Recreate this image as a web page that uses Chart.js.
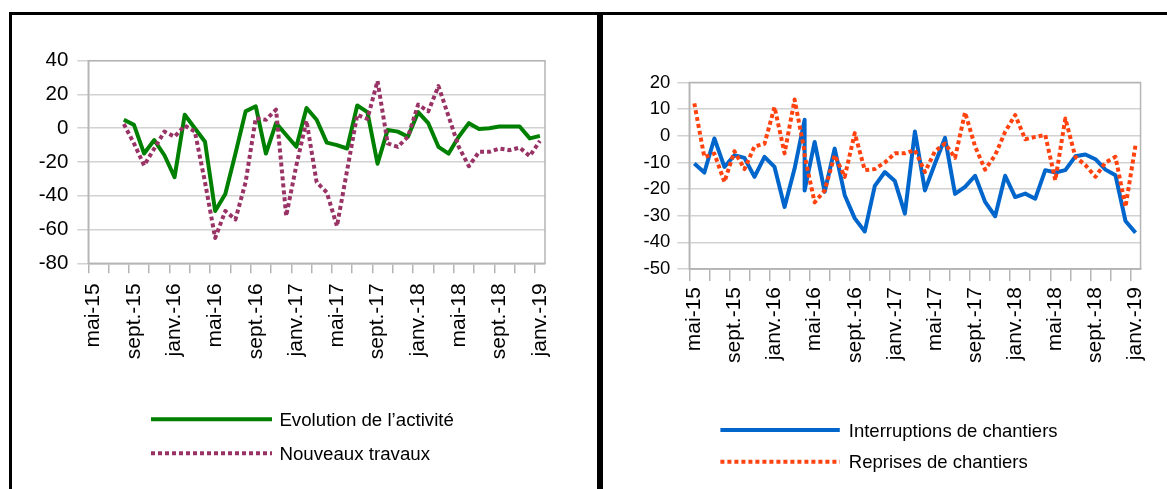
<!DOCTYPE html>
<html><head><meta charset="utf-8">
<script src="https://cdn.jsdelivr.net/npm/chart.js@4.4.1/dist/chart.umd.min.js"></script>
<style>
html,body{margin:0;padding:0;background:#fff;width:1167px;height:489px;overflow:hidden;}
.panel{position:absolute;top:12px;border:3px solid #000;box-sizing:border-box;height:540px;}
#p1{left:9px;width:591px;}
#p2{left:600px;width:620px;}
canvas{position:absolute;}
</style></head><body>
<div class="panel" id="p1"></div><div class="panel" id="p2"></div>
<canvas id="c1" width="586" height="474" style="left:12px;top:15px;width:586px;height:474px"></canvas>
<canvas id="c2" width="564" height="474" style="left:603px;top:15px;width:564px;height:474px"></canvas>
<script>
// ---- data ----
const months = ['mai-15','juin-15','juil.-15','août-15','sept.-15','oct.-15','nov.-15','déc.-15',
 'janv.-16','févr.-16','mars-16','avr.-16','mai-16','juin-16','juil.-16','août-16','sept.-16','oct.-16','nov.-16','déc.-16',
 'janv.-17','févr.-17','mars-17','avr.-17','mai-17','juin-17','juil.-17','août-17','sept.-17','oct.-17','nov.-17','déc.-17',
 'janv.-18','févr.-18','mars-18','avr.-18','mai-18','juin-18','juil.-18','août-18','sept.-18','oct.-18','nov.-18','déc.-18',
 'janv.-19'];

const evolutionActivite = [null,null,null,5,2,-15,-7,-16,-29,8,0,-8,-49,-39,-15,10,13,-15,3,-4,-11,12,5,-8.5,-10,-12,13.5,9.5,-21,-1,-2,-5,9.5,3,-11,-15,-5,3,-0.5,0,1,1,1,-6,-4.5];
const nouveauxTravaux = [null,null,null,2.5,-9,-22,-12,-2,-5,1.5,-2,-32,-65,-49,-54,-32,6,5,11,-52,-22,4.5,-32,-38,-58,-25,8,5.5,28,-9,-11,-5,14,10,25,7,-11,-22.5,-14,-14,-12,-13,-11.5,-16.5,-7.5];

// right panel: the source series contains two observations for avr.-16
const rightMonths = [...months.slice(0, 12), 'avr.-16', ...months.slice(12)];
const interruptions = [-10.4,-13.8,-1,-11.7,-7.3,-8.3,-15.4,-7.9,-11.7,-26.7,-12.3,6,-20.5,-2.3,-21,-4.8,-22.3,-31,-35.9,-18.8,-13.6,-17,-29.2,1.6,-20.5,-10.4,-0.8,-21.8,-19.2,-15,-24.8,-30.2,-15,-23,-21.7,-23.6,-12.9,-13.8,-12.9,-7.7,-7,-8.8,-12.7,-14.8,-32,-36.4];
const reprises = [12.2,-8,-6.7,-17.3,-5.8,-12.5,-4,-3,10.8,-6.6,13.6,-6,-7.5,-25,-20.5,-7.3,-15.4,1,-12.9,-12.5,-10,-6.6,-6.6,-5.4,-13.6,-5.8,-2.9,-8.3,8.8,-4,-12.7,-7.3,1.5,7.8,-1.3,-0.4,0.3,-16.7,6.5,-7.9,-11,-15.4,-10,-7.9,-26.7,-3.5];

// ---- chart setup ----
Chart.defaults.font.family = "'Liberation Sans', Arial, sans-serif";
Chart.defaults.color = '#000';

const GRID = '#d2d2d2', AXIS = '#b5b5b5';

const frame = { id:'frame', beforeDatasetsDraw(chart){
  const {ctx, chartArea:a} = chart; ctx.save(); ctx.strokeStyle = AXIS; ctx.lineWidth = 1.5;
  ctx.strokeRect(a.left, a.top, a.right-a.left, a.bottom-a.top); ctx.restore(); } };

const blockLegend = { id:'blockLegend', afterDraw(chart, args, o){
  const ctx = chart.ctx;
  chart.data.datasets.forEach((ds, i) => {
    const y = o.y[i];
    ctx.save();
    ctx.strokeStyle = ds.borderColor; ctx.lineWidth = ds.borderWidth; ctx.setLineDash(ds.borderDash || []);
    ctx.beginPath(); ctx.moveTo(o.x1, y); ctx.lineTo(o.x2, y); ctx.stroke();
    ctx.setLineDash([]);
    ctx.fillStyle = '#000'; ctx.font = o.size + "px 'Liberation Sans', Arial, sans-serif";
    ctx.textBaseline = 'alphabetic'; ctx.textAlign = 'left';
    ctx.fillText(ds.label, o.tx, y + o.dy);
    ctx.restore();
  });
} };

function xAxis(tickLen, pad, size, h){
  return {
    type:'category', offset:true,
    grid:{offset:true, drawOnChartArea:false, drawTicks:true, tickLength:tickLen, lineWidth:1.5,
      color: c => (c.index !== undefined && c.index % 2 === 0) ? AXIS : 'rgba(0,0,0,0)'},
    border:{color:AXIS, width:1.5},
    ticks:{autoSkip:false, minRotation:90, maxRotation:90, padding:pad, font:{size:size},
      callback(v, i){ return i % 4 === 0 ? this.getLabelForValue(v) : ''; }},
    afterFit(s){ s.height = h; }
  };
}
function yAxis(min, max, step, tickLen, pad, size, w){
  return {
    min, max,
    ticks:{stepSize:step, padding:pad, font:{size:size}},
    grid:{color:GRID, lineWidth:1.5, tickLength:tickLen, tickColor:GRID},
    border:{color:AXIS, width:1.5},
    afterFit(s){ s.width = w; }
  };
}

const lineBase = {pointRadius:0, tension:0, borderWidth:4, borderJoinStyle:'round'};

new Chart(document.getElementById('c1'), {
  type:'line',
  data:{ labels: months, datasets:[
    {...lineBase, label:'Evolution de l\u2019activité', data:evolutionActivite, borderColor:'#008000', order:1},
    {...lineBase, label:'Nouveaux travaux', data:nouveauxTravaux, borderColor:'#993366', borderDash:[4,3], order:0}
  ]},
  options:{
    responsive:false, animation:false, devicePixelRatio:1,
    layout:{padding:{left:0, top:45.7, right:53, bottom:105.7}},
    plugins:{legend:{display:false}, tooltip:{enabled:false},
      blockLegend:{x1:139, x2:260, tx:267.4, y:[404.3, 438.3], dy:6.5, size:18.7}},
    scales:{ x: xAxis(10, 10, 21, 120), y: yAxis(-80, 40, 20, 11, 9, 20.5, 76.3) }
  },
  plugins:[frame, blockLegend]
});

new Chart(document.getElementById('c2'), {
  type:'line',
  data:{ labels: months, datasets:[
    {...lineBase, label:'Interruptions de chantiers', data: interruptions.map((v,i)=>({x:rightMonths[i], y:v})), borderColor:'#0066cc', order:1},
    {...lineBase, label:'Reprises de chantiers', data: reprises.map((v,i)=>({x:rightMonths[i], y:v})), borderColor:'#ff420e', borderDash:[4,3], order:0}
  ]},
  options:{
    responsive:false, animation:false, devicePixelRatio:1,
    layout:{padding:{left:0, top:67.5, right:24.3, bottom:100}},
    plugins:{legend:{display:false}, tooltip:{enabled:false},
      blockLegend:{x1:117.4, x2:236.8, tx:245.8, y:[415, 446.7], dy:6.5, size:18.5}},
    scales:{ x: xAxis(12, 6, 21, 120), y: yAxis(-50, 20, 10, 12, 7, 18.5, 86.3) }
  },
  plugins:[frame, blockLegend]
});
</script>
</body></html>
